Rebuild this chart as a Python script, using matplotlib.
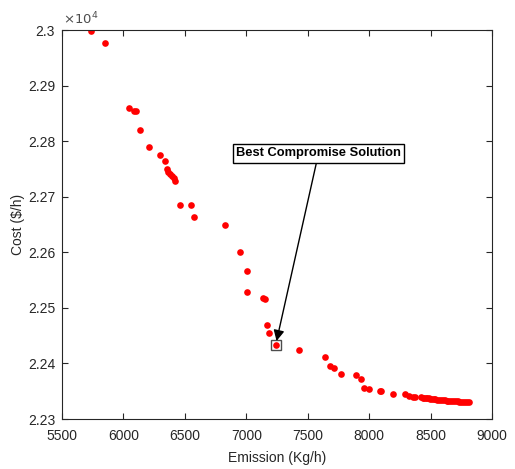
import matplotlib.pyplot as plt
from matplotlib.ticker import FuncFormatter

plt.rcParams['font.family'] = ['Liberation Sans', 'DejaVu Sans']

# Pareto front: emission (Kg/h), cost ($/h)
emission = [5738, 5847, 6047, 6085, 6101, 6136, 6207, 6296, 6337, 6351,
            6364, 6378, 6396, 6410, 6416, 6459, 6546, 6573, 6830, 6946,
            7003, 7006, 7136, 7150, 7171, 7182, 7239, 7428, 7643, 7678,
            7718, 7773, 7895, 7935, 7960, 8003, 8092, 8096, 8198, 8295,
            8328, 8360, 8374, 8423, 8435, 8448, 8460, 8472, 8485, 8498,
            8510, 8525, 8540, 8555, 8570, 8585, 8600, 8615, 8630, 8645,
            8660, 8675, 8690, 8705, 8720, 8735, 8750, 8765, 8780, 8795,
            8810]
cost = [22998, 22977, 22859, 22855, 22855, 22820, 22789, 22775, 22764, 22750,
        22744, 22741, 22737, 22734, 22729, 22686, 22686, 22663, 22650, 22600,
        22567, 22529, 22518, 22516, 22469, 22455, 22433, 22424, 22412, 22396,
        22391, 22381, 22379, 22372, 22356, 22354, 22351, 22350, 22345, 22345,
        22342, 22340, 22339, 22339, 22338.6, 22338.2, 22337.8, 22337.4, 22337, 22336.6,
        22336.2, 22335.8, 22335.4, 22335, 22334.6, 22334.2, 22333.8, 22333.5, 22333.2, 22332.9,
        22332.6, 22332.3, 22332, 22331.8, 22331.6, 22331.4, 22331.2, 22331, 22330.8, 22330.6,
        22330.4]

best_emission = 7239
best_cost = 22433
label_pos = (7588, 22778)

fig = plt.figure(figsize=(5.15, 4.69), dpi=100)
ax = fig.add_axes([0.1204, 0.1066, 0.8349, 0.8294])

ax.plot(emission, cost, 'o', color='red', markersize=4.8, markeredgewidth=0)
ax.plot(best_emission, best_cost, 's', markerfacecolor='none',
        markeredgecolor='0.3', markersize=6.5, markeredgewidth=1)

ax.annotate('Best Compromise Solution', xy=(best_emission, best_cost),
            xytext=label_pos, ha='center', va='center',
            fontsize=9.3, fontweight='bold',
            bbox=dict(boxstyle='square,pad=0.25', fc='white', ec='black', lw=1),
            arrowprops=dict(arrowstyle='-|>', color='black', lw=1,
                            mutation_scale=16, shrinkA=0, shrinkB=3))

ax.set_xlim(5500, 9000)
ax.set_ylim(22300, 23000)
ax.set_xticks(range(5500, 9001, 500))
ax.set_yticks(range(22300, 23001, 100))
ax.yaxis.set_major_formatter(FuncFormatter(lambda v, p: '%g' % (v / 1e4)))
ax.text(0.003, 1.006, r'$\times10^{4}$', transform=ax.transAxes,
        fontsize=9.5, color='0.3', ha='left', va='bottom')

ax.tick_params(direction='in', top=True, right=True, length=4.5,
               labelsize=10, colors='0.15', width=0.8)
ax.tick_params(axis='x', pad=7)
ax.tick_params(axis='y', pad=5)
for s in ax.spines.values():
    s.set_color('0.15')
    s.set_linewidth(0.8)

ax.set_xlabel('Emission (Kg/h)', fontsize=10, color='0.15', labelpad=6)
ax.set_ylabel(r'Cost (\$/h)', fontsize=10, color='0.15', labelpad=2)

fig.savefig('out.png', dpi=100)
